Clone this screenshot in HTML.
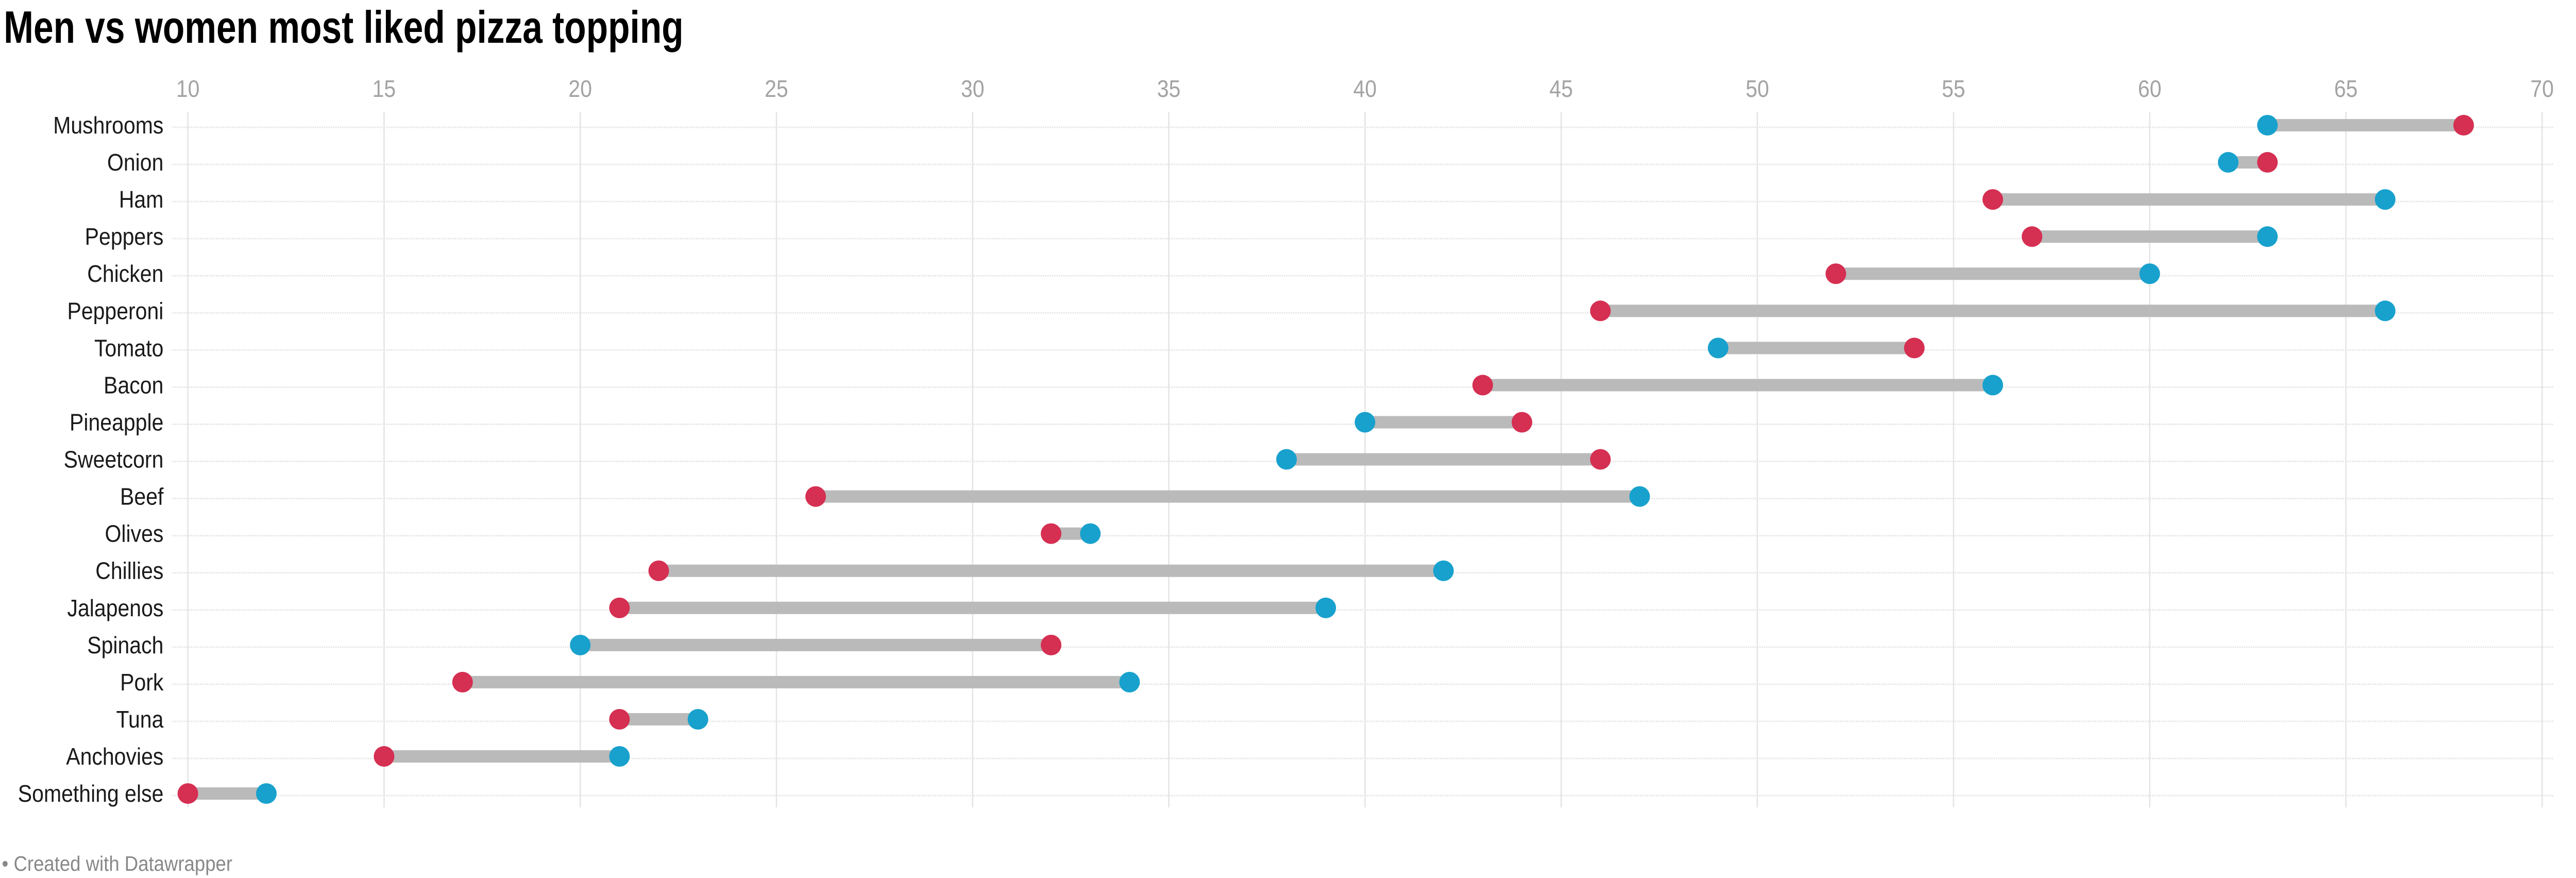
<!DOCTYPE html>
<html><head><meta charset="utf-8"><style>
html,body{margin:0;padding:0;background:#fff;width:100%;height:100%;overflow:hidden;}
svg{display:block;font-family:"Liberation Sans",sans-serif;width:100vw;height:100vh;}
</style></head><body>
<svg id="chart" viewBox="0 0 5608 1704" preserveAspectRatio="none" xmlns="http://www.w3.org/2000/svg">
<text x="8" y="83" font-size="88" font-weight="bold" fill="#000" textLength="1480" lengthAdjust="spacingAndGlyphs">Men vs women most liked pizza topping</text>
<g id="grid"></g><g id="rows"></g><g id="marks"></g>
<text x="4" y="1690" font-size="41" fill="#888">• Created with Datawrapper</text>
</svg>
<script>
const categories = ["Mushrooms","Onion","Ham","Peppers","Chicken","Pepperoni","Tomato","Bacon","Pineapple","Sweetcorn","Beef","Olives","Chillies","Jalapenos","Spinach","Pork","Tuna","Anchovies","Something else"];
const blueValues = [63,62,66,63,60,66,49,56,40,38,47,33,42,39,20,34,23,21,12];
const redValues = [68,63,56,57,52,46,54,43,44,46,26,32,22,21,32,17,21,15,10];
const ticks = [10,15,20,25,30,35,40,45,50,55,60,65,70];

const NS = "http://www.w3.org/2000/svg";
const x = v => 409 + (v - 10) * 85.42;
const y = i => 243 + i * 72.06;
const sx = (window.innerWidth || 5608) / 5608, sy = (window.innerHeight || 1704) / 1704;
const rx = 20 * sy / sx;
function mk(tag, attrs, parent){const e=document.createElementNS(NS,tag);for(const k in attrs)e.setAttribute(k,attrs[k]);parent.appendChild(e);return e;}
const grid=document.getElementById('grid'),rows=document.getElementById('rows'),marks=document.getElementById('marks');

ticks.forEach(t=>{
  const l=mk('line',{x1:x(t),x2:x(t),y1:217,y2:1567,stroke:'#e5e5e5','stroke-width':3},grid);
  
  
  const tx=mk('text',{x:x(t),y:188,'text-anchor':'middle','font-size':46,fill:'#a3a3a3'},grid);
  tx.textContent=t;
  
  
});

categories.forEach((c,i)=>{
  const l=mk('line',{x1:375,x2:5559,y1:y(i)+4,y2:y(i)+4,stroke:'#e6e6e6','stroke-width':3,'stroke-dasharray':'3 2'},rows);
  
  
  const t=mk('text',{x:356,y:y(i)+16,'text-anchor':'end','font-size':46,fill:'#1a1a1a'},rows);
  t.textContent=c;
  
  
  const a=Math.min(blueValues[i],redValues[i]),b=Math.max(blueValues[i],redValues[i]);
  const r=mk('rect',{x:x(a),y:y(i)-12,width:x(b)-x(a),height:24,fill:'#bababa'},marks);
  
  
  const cb=mk('ellipse',{cx:x(blueValues[i]),cy:y(i),rx:rx,ry:20,fill:'#18a1cd'},marks);
  
  
  const cr=mk('ellipse',{cx:x(redValues[i]),cy:y(i),rx:rx,ry:20,fill:'#d52f52'},marks);
  
  
});
</script>
</body></html>
